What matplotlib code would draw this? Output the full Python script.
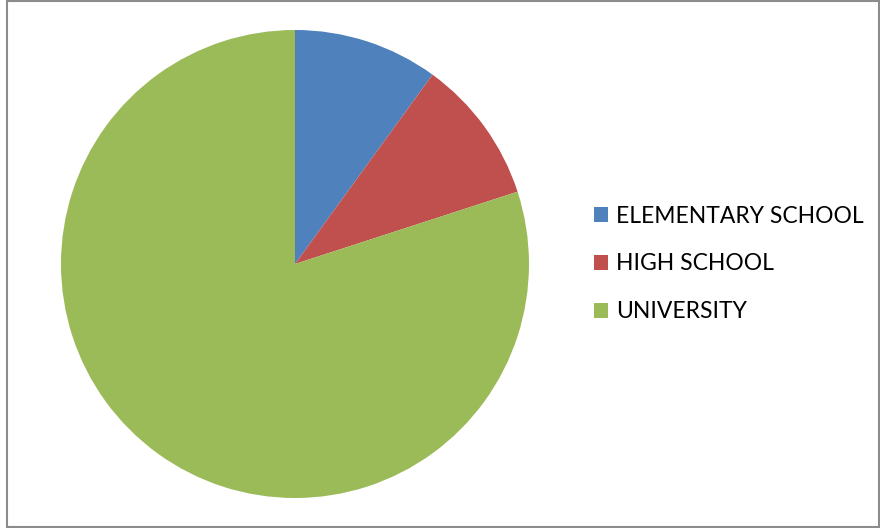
import matplotlib
matplotlib.use("Agg")
import matplotlib.pyplot as plt
from matplotlib.patches import Rectangle

# data
labels = ["ELEMENTARY SCHOOL", "HIGH SCHOOL", "UNIVERSITY"]
shares = [10, 10, 80]
colors = ["#4F81BD", "#C0504D", "#9BBB59"]

W, H = 880, 528
fig = plt.figure(figsize=(W / 100, H / 100), dpi=100)
fig.patch.set_facecolor("white")

# outer frame
fig.patches.append(Rectangle((7 / W, 1 / H), (W - 8) / W, (H - 2) / H,
                             transform=fig.transFigure, fill=False,
                             edgecolor="#8c8c8c", linewidth=1.5))

# pie: center ~ (295, 264) px, radius ~ 234 px
cx, cy, r = 295, 264, 234
ax = fig.add_axes([(cx - r) / W, (H - cy - r) / H, 2 * r / W, 2 * r / H])
wedges, _ = ax.pie(shares, colors=colors, startangle=90, counterclock=False,
                   radius=1.0, wedgeprops=dict(linewidth=0))
ax.set_xlim(-1, 1)
ax.set_ylim(-1, 1)
ax.set_aspect("equal")
ax.axis("off")

fig.legend(wedges, labels, loc="center left",
           bbox_to_anchor=(594 / W, 1 - 264 / H),
           frameon=False, prop={"family": "Lato", "size": 16.5},
           handlelength=0.62, handleheight=0.62, handletextpad=0.35,
           labelspacing=1.17, borderpad=0, borderaxespad=0)

fig.savefig("out.png", dpi=100)
